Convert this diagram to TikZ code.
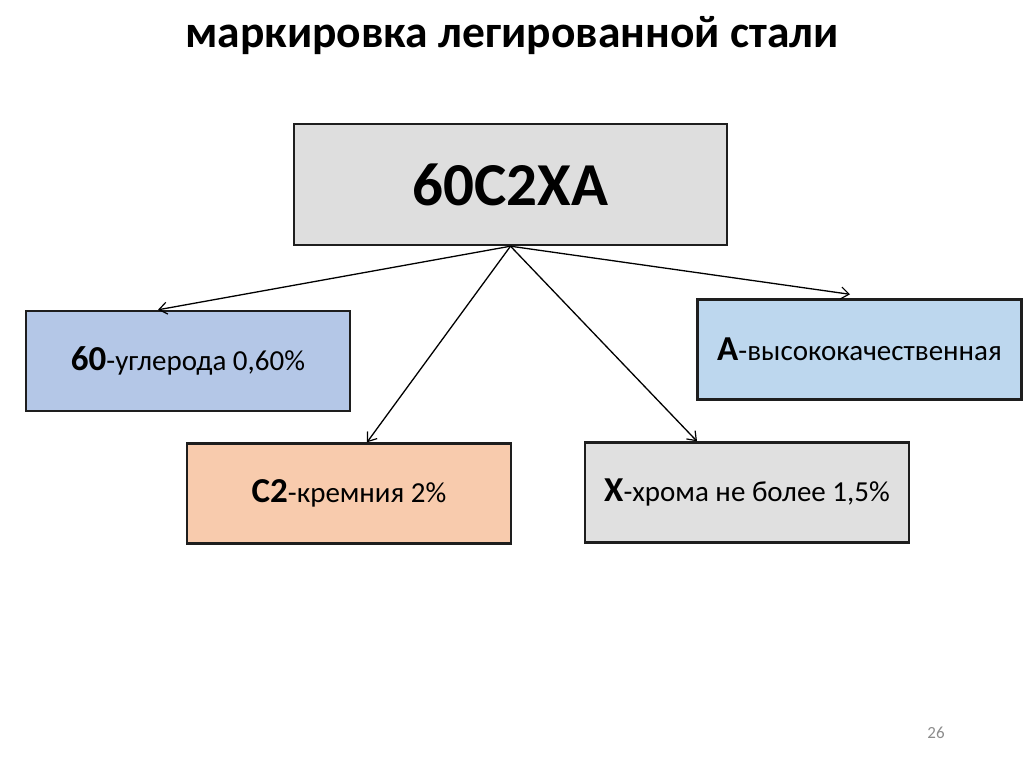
\documentclass[tikz,border=0pt]{standalone}
\usepackage{fontspec}
\setmainfont{Carlito}
\usetikzlibrary{arrows.meta}
\definecolor{topgray}{RGB}{222,222,222}
\definecolor{xgray}{RGB}{224,224,224}
\definecolor{lblue}{RGB}{180,199,231}
\definecolor{rblue}{RGB}{189,215,238}
\definecolor{peach}{RGB}{248,203,173}
\definecolor{edge}{RGB}{30,30,30}
\definecolor{pnum}{RGB}{140,140,140}
\newcommand{\bpart}[1]{{\fontsize{35}{38}\selectfont\bfseries #1}}
\tikzset{
  box/.style={draw=edge, line width=2.4pt, rectangle, inner sep=0pt, minimum width=324pt, minimum height=100pt, font=\fontsize{29}{32}\selectfont},
  arr/.style={draw=black, line width=1.3pt, -{Straight Barb[length=8pt,width=12pt,line width=1.2pt]}}
}
\begin{document}
\begin{tikzpicture}[x=1pt,y=-1pt]
\useasboundingbox (0,0) rectangle (1024,767);
\node[font=\fontsize{45.5}{50}\selectfont\bfseries] (title) at (512,36) {маркировка легированной стали};
\node[box, fill=topgray, minimum width=433pt, minimum height=121pt, font=\fontsize{61}{66}\selectfont\bfseries] (top) at (510.5,184.5) {60C2XA};
\node[box, fill=lblue] (b60) at (188,361) {\bpart{60}-углерода 0,60\%};
\node[box, fill=rblue] (ba) at (859.5,349.5) {\bpart{A}-высококачественная};
\node[box, fill=peach] (bc2) at (349,493.5) {\bpart{C2}-кремния 2\%};
\node[box, fill=xgray] (bx) at (747,492.5) {\bpart{X}-хрома не более 1,5\%};
\node[font=\fontsize{17}{19}\selectfont, text=pnum] (pg) at (936,733) {26};
\draw[arr] (top.south) -- ([xshift=-30pt]b60.north);
\draw[arr] (top.south) -- ([xshift=18pt]bc2.north);
\draw[arr] (top.south) -- ([xshift=-50pt]bx.north);
\draw[arr] (top.south) -- ([xshift=-9.5pt,yshift=4pt]ba.north);
\end{tikzpicture}
\end{document}
